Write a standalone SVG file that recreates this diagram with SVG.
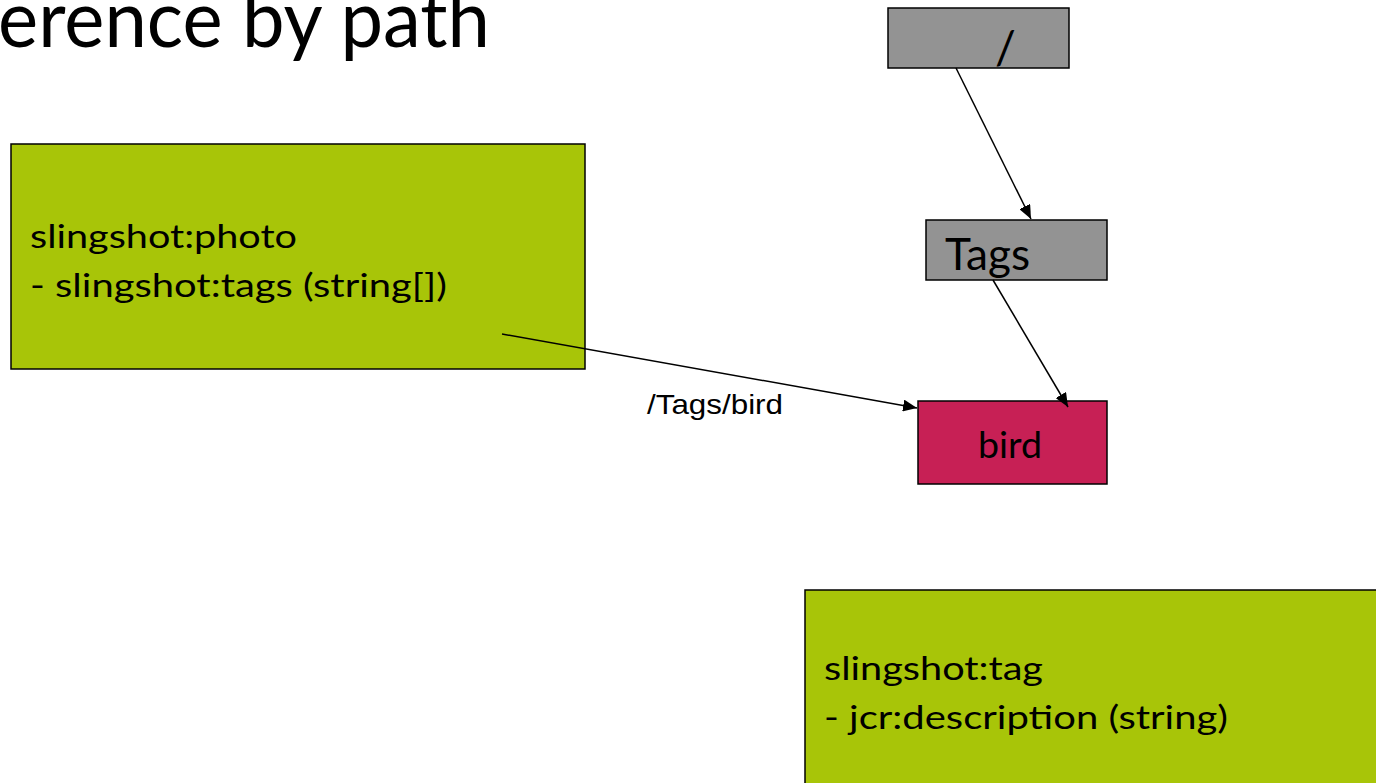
<svg xmlns="http://www.w3.org/2000/svg" width="1376" height="783" viewBox="0 0 1376 783">
  <style>
    .box { stroke: #000; stroke-width: 1.5; }
    .grey { fill: #939393; }
    .green { fill: #A8C508; }
    .red { fill: #C72055; }
    .txt { font-family: Lato, "Open Sans", "Liberation Sans", sans-serif; fill: #000; }
    .body { font-size: 32px; }
    .edge { stroke: #000; stroke-width: 1.5; fill: none; marker-end: url(#arrow); }
    .lbl { font-family: "Liberation Sans", Arial, sans-serif; font-size: 28px; fill: #000; }
  </style>
  <defs>
    <marker id="arrow" viewBox="0 0 14 12" refX="14" refY="6" markerWidth="14" markerHeight="12" markerUnits="userSpaceOnUse" orient="auto">
      <path d="M0,0 L14,6 L0,12 z" fill="#000"/>
    </marker>
  </defs>
  <rect width="1376" height="783" fill="#fff"/>

  <text class="txt" x="-2" y="47" font-size="80" textLength="492" lengthAdjust="spacingAndGlyphs">erence by path</text>

  <g id="node-root">
    <rect class="box grey" x="888" y="8" width="181" height="60"/>
    <text class="txt" x="995" y="64" font-size="46">/</text>
  </g>

  <g id="node-tags">
    <rect class="box grey" x="926" y="220" width="181" height="60"/>
    <text class="txt" x="945" y="270" font-size="44" textLength="85" lengthAdjust="spacingAndGlyphs">Tags</text>
  </g>

  <g id="node-bird">
    <rect class="box red" x="918" y="401" width="189" height="83"/>
    <text class="txt" x="978" y="458" font-size="36" textLength="64" lengthAdjust="spacingAndGlyphs">bird</text>
  </g>

  <g id="node-photo">
    <rect class="box green" x="11" y="144" width="574" height="225"/>
    <text class="txt body" x="30" y="248" textLength="267" lengthAdjust="spacingAndGlyphs">slingshot:photo</text>
    <text class="txt body" x="30" y="297" textLength="417" lengthAdjust="spacingAndGlyphs">- slingshot:tags (string[])</text>
  </g>

  <g id="node-tag">
    <rect class="box green" x="805" y="590" width="580" height="200"/>
    <text class="txt body" x="824" y="680" textLength="219" lengthAdjust="spacingAndGlyphs">slingshot:tag</text>
    <text class="txt body" x="824" y="729" textLength="404" lengthAdjust="spacingAndGlyphs">- jcr:description (string)</text>
  </g>

  <g id="connectors">
    <line class="edge" x1="956" y1="68" x2="1031" y2="219"/>
    <line class="edge" x1="993" y1="280" x2="1068" y2="407"/>
    <line class="edge" x1="502" y1="334" x2="917" y2="408"/>
    <text class="lbl" x="647" y="414" textLength="136" lengthAdjust="spacingAndGlyphs">/Tags/bird</text>
  </g>
</svg>
